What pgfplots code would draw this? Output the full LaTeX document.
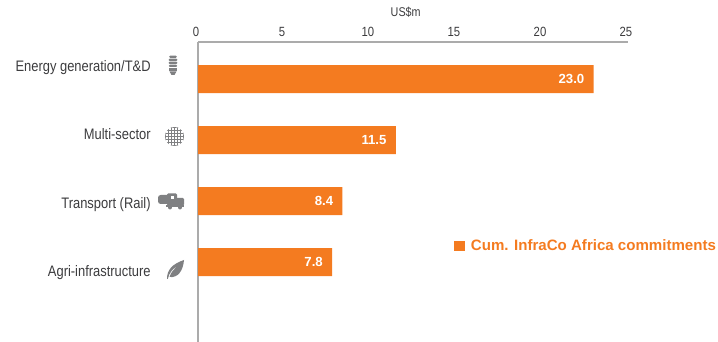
\documentclass[border=0pt]{standalone}
\usepackage{pgfplots}
\pgfplotsset{compat=1.18}
\usepackage{fontspec}
\setmainfont{Liberation Sans}
\newfontfamily\narrowfont[FakeStretch=0.85]{Liberation Sans}
\definecolor{barorange}{HTML}{F47B20}
\definecolor{axisgrey}{HTML}{ABABAB}
\definecolor{labelgrey}{HTML}{3C3C3E}
\definecolor{icongrey}{HTML}{7F8082}
\begin{document}
\begin{tikzpicture}[x=0.75pt,y=0.75pt]
% fixed page frame, 718 by 342 units
\useasboundingbox (0,0) rectangle (718,342);
\begin{axis}[
  at={(198pt*0.75,0pt)}, anchor=south west,
  scale only axis, width=322.5pt, height=225pt,
  xmin=0, xmax=25, ymin=-1.311, ymax=3.607,
  axis x line=top, axis y line=left,
  axis line style={draw=axisgrey, line width=1pt, -},
  xtick={0,5,10,15,20,25},
  ytick={3.18,2.10,0.95,-0.165},
  yticklabels={Energy generation/T\&D,Multi-sector,Transport (Rail),Agri-infrastructure},
  major tick length=0pt,
  /pgf/number format/assume math mode=true,
  xticklabel style={font=\narrowfont\fontsize{10}{12}\selectfont, text=labelgrey, yshift=0.5pt, xshift=-1.5pt},
  yticklabel style={font=\narrowfont\fontsize{11.4}{13}\selectfont, text=labelgrey, anchor=east, xshift=-32pt},
  xlabel={US\$m},
  xlabel style={font=\narrowfont\fontsize{9.5}{11}\selectfont, text=labelgrey,
    at={(axis description cs:0.483,1.10)}, anchor=center},
  legend style={at={(axis description cs:0.596,0.32)}, anchor=west, draw=none, fill=none,
    font=\bfseries\fontsize{11.3}{13}\selectfont, text=barorange, inner sep=0pt, outer sep=0pt,
    /tikz/every odd column/.append style={column sep=2.2pt}},
  legend image code/.code={\fill[barorange] (0pt,-4.1pt) rectangle (8.3pt,4.1pt);},
  clip=false,
]
\addplot[xbar, bar width=21pt, fill=barorange, draw=none,
  nodes near coords,
  point meta=x,
  nodes near coords style={anchor=east, xshift=-6.8pt, inner sep=0pt, text=white,
    font=\bfseries\fontsize{9.9}{11}\selectfont,
    /pgf/number format/fixed, /pgf/number format/fixed zerofill, /pgf/number format/precision=1,
    /pgf/number format/assume math mode=true},
] coordinates {(23.0,3) (11.5,2) (8.4,1) (7.8,0)};
\addlegendentry{Cum. InfraCo Africa commitments}
\end{axis}
% sector pictograms beside the category names
\begin{scope}[icongrey]
  % compact fluorescent bulb
  \foreach \yy/\hw in {58/3.8,61/4.5,64/4.5,67/4.2}{
    \fill[rounded corners=0.8pt] (173-\hw,342-\yy) rectangle (173+\hw,342-\yy+2.3);}
  \fill (168.8,342-71.5) rectangle (177.2,342-68);
  \fill (169.5,342-71.5) -- (176.5,342-71.5) -- (174.5,342-75) -- (171.5,342-75) -- cycle;
  % globe mesh
  \begin{scope}
    \clip (174.5,342-136.5) circle (9.5);
    \foreach \d in {-9,-6,...,9}{
      \draw[line width=0.75pt] (174.5+\d,342-147) -- (174.5+\d,342-126);
      \draw[line width=0.75pt] (164,342-136.5+\d) -- (185,342-136.5+\d);}
  \end{scope}
  % locomotive and tank wagon
  \fill[rounded corners=2pt] (158,342-204) rectangle (171,342-195);
  \fill[rounded corners=0.8pt] (167,342-205.5) rectangle (177,342-193.5);
  \fill[rounded corners=0.8pt] (176,342-205.5) rectangle (184,342-198);
  \fill (166,342-207) rectangle (184,342-205);
  \fill[white] (170.5,342-199) rectangle (174,342-196);
  \fill (170,342-207.5) circle (2);
  \fill (180,342-207.5) circle (2);
  % leaf
  \fill (167,342-279) .. controls (167,342-270) and (172,342-264) .. (184,342-260)
     .. controls (183,342-271) and (178,342-278) .. (169.5,342-277)
     .. controls (171,342-272) and (174,342-269) .. (178,342-266)
     .. controls (173,342-268) and (169,342-273) .. (167.8,342-279) -- cycle;
\end{scope}
\end{tikzpicture}
\end{document}
